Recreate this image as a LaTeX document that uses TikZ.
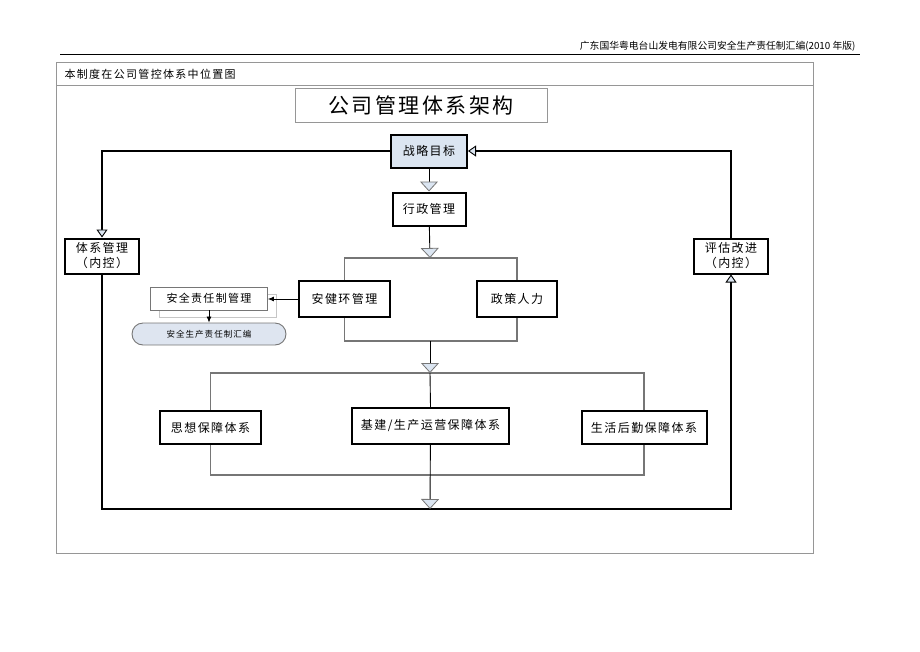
\documentclass[tikz,border=0pt]{standalone}
\usepackage{fontspec}
\setmainfont[LetterSpace=12]{Noto Sans CJK SC}
\newfontfamily\headfont{Noto Sans CJK SC}
\definecolor{tipblue}{RGB}{219, 229, 241}
\definecolor{capblue}{RGB}{222, 229, 240}
\definecolor{framegray}{RGB}{150, 150, 150}
\definecolor{linkgray}{RGB}{118, 118, 118}
\usetikzlibrary{arrows.meta, shadows}

\begin{document}
\begin{tikzpicture}[x=1pt, y=-1pt,
  unitbox/.style={draw, line width=2pt, fill=white, minimum height=33pt, inner sep=2pt, font=\fontsize{12}{15}\selectfont, align=center},
  link/.style={draw=linkgray, line width=1.2pt},
  flow/.style={line width=0.9pt, -{Triangle[width=18pt, length=10pt, color=linkgray, fill=tipblue, line width=0.8pt]}},
  loopline/.style={line width=2.2pt, -{Triangle[width=11pt, length=8pt, fill=tipblue, line width=0.9pt]}}]
  \useasboundingbox (0,0) rectangle (920,651);

  \node[anchor=east, font=\headfont\fontsize{9.8}{11}\selectfont] (head) at (859,46) {广东国华粤电台山发电有限公司安全生产责任制汇编(2010 年版)};
  \draw[line width=0.8pt] (60,54) -- (860,54);
  \draw[framegray, line width=0.8pt] (56,62) rectangle (813,553);
  \draw[framegray, line width=0.8pt] (56,85) -- (813,85);
  \node[anchor=west, font=\fontsize{11}{13}\selectfont] (caption) at (61,74) {本制度在公司管控体系中位置图};
  \node[draw=framegray, line width=0.8pt, minimum width=252pt, minimum height=34pt, font=\fontsize{21}{24}\selectfont] (title) at (421,105) {公司管理体系架构};

  \node[unitbox, fill=tipblue, minimum width=76pt] (goal) at (429,151) {战略目标};
  \node[unitbox, minimum width=73pt] (admin) at (429,209) {行政管理};
  \node[unitbox, minimum width=74pt, minimum height=35pt] (sysmgmt) at (102,256) {体系管理\\（内控）};
  \node[unitbox, minimum width=74pt, minimum height=35pt] (review) at (731,256) {评估改进\\（内控）};
  \node[unitbox, minimum width=91pt, minimum height=36pt] (hse) at (344.5,299) {安健环管理};
  \node[unitbox, minimum width=80pt, minimum height=36pt] (policy) at (517,299) {政策人力};
  \node[draw=linkgray, line width=0.8pt, fill=white, minimum width=117pt, minimum height=23pt, inner sep=1pt, font=\fontsize{11}{13}\selectfont,
    general shadow={shadow xshift=9pt, shadow yshift=-7pt, fill=white, draw=gray!45, line width=0.8pt, rounded corners=3pt}] (duty) at (209,298.5) {安全责任制管理};
  \node[draw=linkgray, line width=0.9pt, fill=capblue, rounded corners=11pt, minimum width=154pt, minimum height=22pt, font=\fontsize{8.5}{10}\selectfont] (book) at (209,334) {安全生产责任制汇编};
  \node[unitbox, minimum width=101pt] (thought) at (210.5,427.5) {思想保障体系};
  \node[unitbox, minimum width=157pt, minimum height=36pt] (ops) at (430.5,426) {基建/生产运营保障体系};
  \node[unitbox, minimum width=125pt] (logis) at (644,427.5) {生活后勤保障体系};

  \coordinate (fork1) at (430,258);
  \coordinate (merge1) at (430,341);
  \coordinate (fork2) at (430,373);
  \coordinate (merge2) at (430,475);
  \coordinate (base) at (430,509);

  \draw[loopline] (goal.west) -| (sysmgmt.north);
  \draw[loopline] (sysmgmt.south) |- (base) -| (review.south);
  \draw[loopline] (review.north) |- (goal.east);

  \draw[flow] (goal) -- (admin);
  \draw[flow] (admin) -- (fork1);
  \draw[link] (hse.north) |- (fork1) -| (policy.north);
  \draw[link] (hse.south) |- (merge1) -| (policy.south);
  \draw[flow] (merge1) -- (fork2);
  \draw[link] (thought.north) |- (fork2) -| (logis.north);
  \draw[link] (thought.south) |- (merge2) -| (logis.south);
  \draw[line width=0.9pt] (fork2) -- (ops.north);
  \draw[flow] (ops) -- (base);
  \draw[line width=0.8pt, -{Latex[length=6pt, width=5pt]}] (hse.west) -- (hse.west -| duty.east);
  \draw[line width=0.8pt, -{Latex[length=6pt, width=5pt]}] (duty) -- (book);
\end{tikzpicture}
\end{document}
